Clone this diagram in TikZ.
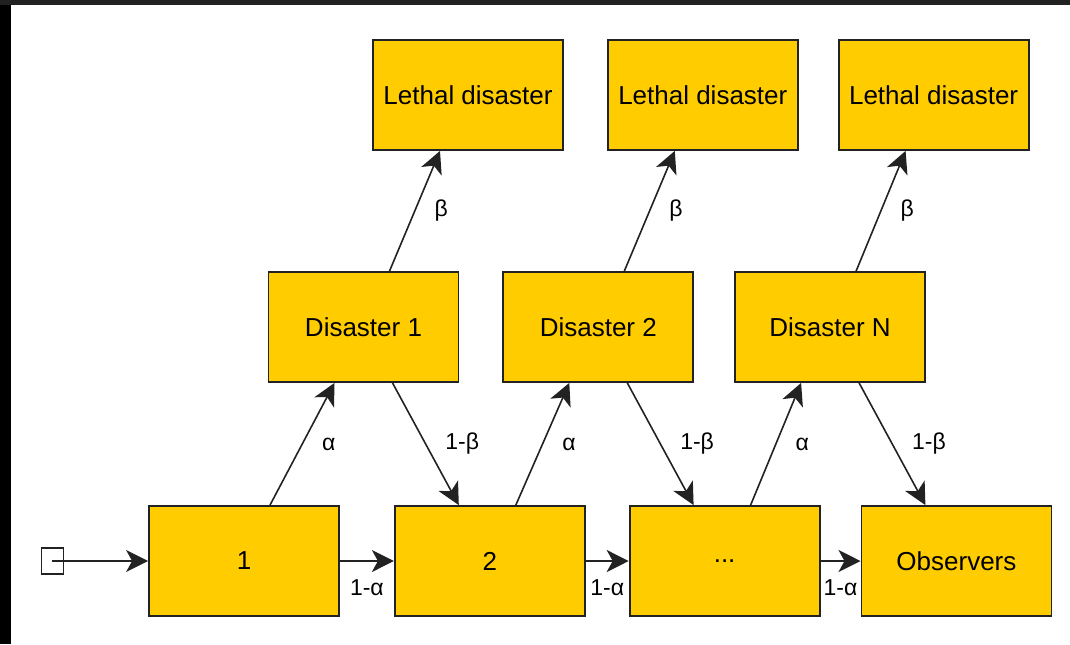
\documentclass[tikz,border=0pt]{standalone}
\usepackage{fontspec}
\setmainfont{Liberation Sans}
\usetikzlibrary{positioning}
\usetikzlibrary{arrows.meta}

\definecolor{boxyellow}{HTML}{FFCC00}
\definecolor{edgegrey}{HTML}{222222}

\begin{document}
\begin{tikzpicture}[x=0.5pt, y=-0.5pt]
	\tikzset{
		statenode/.style={rectangle, draw=edgegrey, line width=0.9pt, fill=boxyellow, minimum width=95pt, minimum height=55pt, inner sep=0pt, text centered, font=\fontsize{13}{15}\selectfont},
		startnode/.style={rectangle, draw=edgegrey, line width=0.8pt, fill=white, minimum width=11pt, minimum height=13pt, inner sep=0pt},
		flow/.style={-{Stealth[length=11pt, width=11pt, inset=3pt]}, line width=0.8pt, draw=edgegrey},
		prob/.style={midway, right=8.5pt, inner sep=1pt, font=\fontsize{11.5}{13}\selectfont},
		probbelow/.style={midway, below=8pt, inner sep=1pt, font=\fontsize{11.5}{13}\selectfont},
	}
	% frame round the white sheet
	\useasboundingbox (0,0) rectangle (1070,644);
	\fill[black!87] (0,0) rectangle (1070,5);
	\fill[black] (0,5) rectangle (11,644);

	% bottom row: survivors so far
	\node[statenode] (s1) at (244,561) {1};
	\node[statenode, right = 27pt of s1] (s2) {2};
	\node[statenode, right = 21.5pt of s2] (s3) {...};
	\node[statenode, right = 20pt of s3] (obs) {Observers};
	\node[startnode, left = 42pt of s1] (in) {};

	% middle row
	\node[statenode] (d1) at (363.5,327) {Disaster 1};
	\node[statenode, right = 21.5pt of d1] (d2) {Disaster 2};
	\node[statenode, right = 20pt of d2] (dn) {Disaster N};

	% top row
	\node[statenode] (l1) at (468,95) {Lethal disaster};
	\node[statenode, right = 21.5pt of l1] (l2) {Lethal disaster};
	\node[statenode, right = 19.5pt of l2] (l3) {Lethal disaster};

	\draw[flow] (in.center) -- (s1.west);
	\draw[flow] (s1.east) -- node[probbelow] {1-α} (s2.west);
	\draw[flow] (s2.east) -- node[probbelow] {1-α} (s3.west);
	\draw[flow] (s3.east) -- node[probbelow] {1-α} (obs.west);

	\draw[flow] ([xshift=13pt]s1.north) -- node[prob] {α} ([xshift=-14.5pt]d1.south);
	\draw[flow] ([xshift=13pt]d1.north) -- node[prob] {β} ([xshift=-14pt]l1.south);
	\draw[flow] ([xshift=14.5pt]d1.south) -- node[prob] {1-β} ([xshift=-15.5pt]s2.north);

	\draw[flow] ([xshift=13pt]s2.north) -- node[prob] {α} ([xshift=-14.5pt]d2.south);
	\draw[flow] ([xshift=13pt]d2.north) -- node[prob] {β} ([xshift=-14pt]l2.south);
	\draw[flow] ([xshift=14.5pt]d2.south) -- node[prob] {1-β} ([xshift=-15.5pt]s3.north);

	\draw[flow] ([xshift=13pt]s3.north) -- node[prob] {α} ([xshift=-14.5pt]dn.south);
	\draw[flow] ([xshift=13pt]dn.north) -- node[prob] {β} ([xshift=-14pt]l3.south);
	\draw[flow] ([xshift=14.5pt]dn.south) -- node[prob] {1-β} ([xshift=-15.5pt]obs.north);
\end{tikzpicture}
\end{document}
